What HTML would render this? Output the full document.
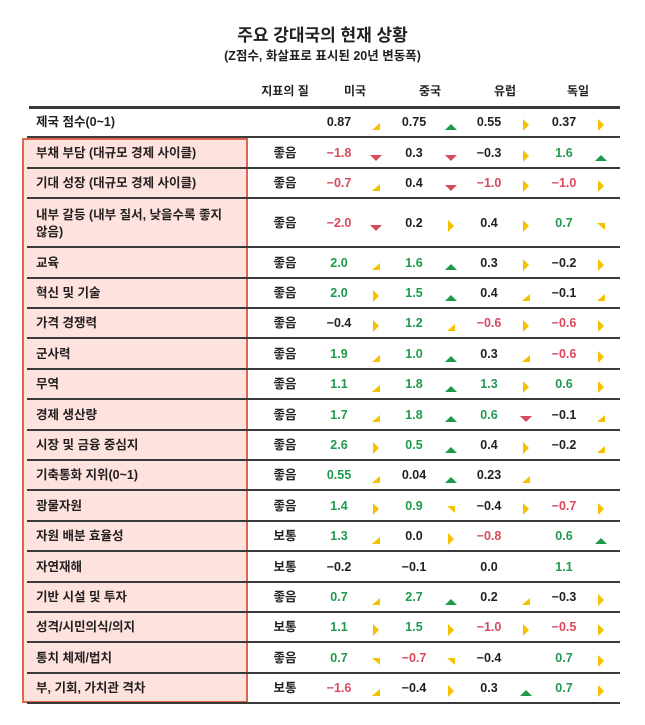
<!DOCTYPE html>
<html><head><meta charset="utf-8">
<style>
html,body{margin:0;padding:0;background:#fff;}
#root{position:relative;width:645px;height:725px;overflow:hidden;font-family:"Liberation Sans","Noto Sans CJK KR",sans-serif;color:#231f20;}
.t{position:absolute;white-space:nowrap;font-weight:bold;line-height:1;}
.line{position:absolute;height:2px;background:#3a3a3a;}
svg.ar{position:absolute;}
</style></head>
<body>
<div id="root">
  <div class="t" style="left:0;width:645px;text-align:center;top:27px;font-size:17px;">주요 강대국의 현재 상황</div>
  <div class="t" style="left:0;width:645px;text-align:center;top:50px;font-size:12.5px;">(Z점수, 화살표로 표시된 20년 변동폭)</div>
  <div style="position:absolute;left:22px;top:138px;width:226px;height:565px;background:#fde2de;border:2px solid #e0654f;box-sizing:border-box;"></div>
</div>
<script>
const countries = ["미국","중국","유럽","독일"];
const labels = ["제국 점수(0~1)","부채 부담 (대규모 경제 사이클)","기대 성장 (대규모 경제 사이클)","내부 갈등 (내부 질서, 낮을수록 좋지|않음)","교육","혁신 및 기술","가격 경쟁력","군사력","무역","경제 생산량","시장 및 금융 중심지","기축통화 지위(0~1)","광물자원","자원 배분 효율성","자연재해","기반 시설 및 투자","성격/시민의식/의지","통치 체제/법치","부, 기회, 가치관 격차"];
const quality = ["","좋음","좋음","좋음","좋음","좋음","좋음","좋음","좋음","좋음","좋음","좋음","좋음","보통","보통","좋음","보통","좋음","보통"];
const usValues = ["0.87","−1.8","−0.7","−2.0","2.0","2.0","−0.4","1.9","1.1","1.7","2.6","0.55","1.4","1.3","−0.2","0.7","1.1","0.7","−1.6"];
const cnValues = ["0.75","0.3","0.4","0.2","1.6","1.5","1.2","1.0","1.8","1.8","0.5","0.04","0.9","0.0","−0.1","2.7","1.5","−0.7","−0.4"];
const euValues = ["0.55","−0.3","−1.0","0.4","0.3","0.4","−0.6","0.3","1.3","0.6","0.4","0.23","−0.4","−0.8","0.0","0.2","−1.0","−0.4","0.3"];
const deValues = ["0.37","1.6","−1.0","0.7","−0.2","−0.1","−0.6","−0.6","0.6","−0.1","−0.2","","−0.7","0.6","1.1","−0.3","−0.5","0.7","0.7"];
const usArrows = ["UR","D","UR","D","UR","R","R","UR","UR","UR","R","UR","R","UR","","UR","R","DR","UR"];
const cnArrows = ["U","D","D","R","U","U","UR","U","U","U","U","U","DR","R","","U","R","DR","R"];
const euArrows = ["R","R","R","R","R","UR","R","UR","R","D","R","UR","R","","","UR","R","","U"];
const deArrows = ["R","U","R","DR","R","UR","R","R","R","UR","UR","","R","U","","R","R","R","R"];

const root = document.getElementById('root');
const rowTops = [107];
labels.forEach((l,i)=>{ rowTops.push(rowTops[i] + (l.includes('|') ? 49 : 30.4)); });
const valX = [339,414,489,564];
const arX = [376,451,526,601];
const headX = [355,430,505,578];
const valueSets = [usValues,cnValues,euValues,deValues];
const arrowSets = [usArrows,cnArrows,euArrows,deArrows];
const NS = "http://www.w3.org/2000/svg";

function txt(s,x,y,size,align,color,name){
  const d=document.createElement('div');
  d.className='t';
  
  
  d.style.top=(y-size*0.55)+'px';
  d.style.height=size+'px';
  d.style.fontSize=size+'px';
  d.style.lineHeight=size+'px';
  d.style.color=color||'#231f20';
  if(align==='c'){d.style.left=(x-60)+'px';d.style.width='120px';d.style.textAlign='center';}
  else d.style.left=x+'px';
  d.textContent=s;
  root.appendChild(d);
}
function colorFor(v,row){
  if(row===0||v==='') return '#231f20';
  const n=parseFloat(v.replace('−','-'));
  if(n>=0.5) return '#1f9a4c';
  if(n<=-0.5) return '#d9485c';
  return '#231f20';
}
function arrow(type,cx,cy){
  if(!type) return;
  const s=document.createElementNS(NS,'svg');
  s.setAttribute('class','ar');
  
  
  s.setAttribute('width','14');s.setAttribute('height','14');
  s.style.left=(cx-7)+'px';s.style.top=(cy-7)+'px';
  const p=document.createElementNS(NS,'polygon');
  let pts,fill='#f5c000';
  if(type==='U'){pts='1,12 13,12 7,6';fill='#1f9a4c';}
  else if(type==='D'){pts='1,6 13,6 7,12';fill='#d44b5d';}
  else if(type==='R'){pts='4,1 10,7 4,13';}
  else if(type==='UR'){pts='3,12 11,12 11,5';}
  else if(type==='DR'){pts='3,4 11,4 11,11';}
  p.setAttribute('points',pts);p.setAttribute('fill',fill);
  s.appendChild(p);root.appendChild(s);
}
txt('지표의 질',285,92,12,'c',null,'header-quality');
countries.forEach((c,j)=>txt(c,headX[j],92,12,'c',null,'header-'+j));
rowTops.forEach((y,i)=>{
  const l=document.createElement('div');
  l.className='line';
  
  
  l.style.left=(i===0?29:27)+'px';l.style.width=(i===0?591:593)+'px';l.style.top=(y-1)+'px';
  if(i===0){l.style.height='3px';}
  root.appendChild(l);
});
labels.forEach((lab,i)=>{
  const top=rowTops[i], bot=rowTops[i+1], cy=(top+bot)/2+1;
  if(lab.includes('|')){
    const parts=lab.split('|');
    txt(parts[0],36,cy-8,12.5,'l',null,'row-label');
    txt(parts[1],36,cy+9,12.5,'l',null,'row-label');
  } else txt(lab,36,cy,12.5,'l',null,'row-label');
  if(quality[i]) txt(quality[i],285,cy,12.5,'c',null,'quality-cell');
  valueSets.forEach((vals,j)=>{
    if(vals[i]) txt(vals[i],valX[j],cy,12.5,'c',colorFor(vals[i],i),'value-cell');
    arrow(arrowSets[j][i],arX[j],cy+2);
  });
});
</script>
</body></html>
